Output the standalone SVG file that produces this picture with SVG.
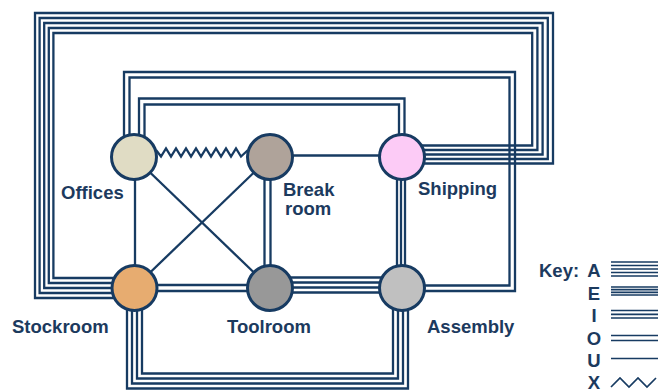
<svg xmlns="http://www.w3.org/2000/svg" width="660" height="392" viewBox="0 0 660 392">
<style>
.ln{fill:none;stroke:#173b62;stroke-width:2.3;stroke-linejoin:miter}
.kl{fill:none;stroke:#173b62;stroke-width:1.7}
.nd{stroke:#173b62;stroke-width:3}
.lb{font-family:"Liberation Sans",Arial,sans-serif;font-weight:bold;font-size:18.5px;fill:#1c3a5e}
.km{text-anchor:middle}
</style>
<rect width="660" height="392" fill="#ffffff"/>
<g id="connectors">
  <!-- A: Stockroom - Shipping (5 lines) -->
  <path class="ln" d="M134 298H35V13H553V163.5H402"/>
  <path class="ln" d="M134 293H39.6V18H547.8V159H402"/>
  <path class="ln" d="M134 288H44.2V23H542.6V154.5H402"/>
  <path class="ln" d="M134 283H48.8V28H537.4V150H402"/>
  <path class="ln" d="M134 278H53.4V33H532.2V145.5H402"/>
  <!-- O: Offices - Assembly -->
  <path class="ln" d="M124 157V72H515V291H402"/>
  <path class="ln" d="M129.5 157V77.5H509.5V285.5H402"/>
  <!-- O: Offices - Shipping -->
  <path class="ln" d="M139 157V98.5H404.5V157"/>
  <path class="ln" d="M144.5 157V104.5H399V157"/>
  <!-- X: Offices - Break room -->
  <path class="ln" d="M156 150L161 156.5L166 148.5L171 156.5L176 148.5L181 156.5L186 148.5L191 156.5L196 148.5L201 156.5L206 148.5L211 156.5L216 148.5L221 156.5L226 148.5L231 156.5L236 148.5L241 156.5L248 150"/>
  <!-- U: Break room - Shipping -->
  <path class="ln" d="M270 155.5H402"/>
  <!-- U: Offices - Stockroom -->
  <path class="ln" d="M135 157V288"/>
  <!-- U diagonals -->
  <path class="ln" d="M134 157L270 288"/>
  <path class="ln" d="M270 157L134 288"/>
  <!-- O: Break room - Toolroom -->
  <path class="ln" d="M264.5 157V288M270.5 157V288"/>
  <!-- O: Stockroom - Toolroom -->
  <path class="ln" d="M134 285H270M134 291H270"/>
  <!-- E: Toolroom - Assembly -->
  <path class="ln" d="M270 277.5H402M270 282.5H402M270 287.5H402M270 292.5H402"/>
  <!-- I: Shipping - Assembly -->
  <path class="ln" d="M397 157V288M401 157V288M405 157V288"/>
  <!-- E: Stockroom - Assembly -->
  <path class="ln" d="M127 288V388.5H408V288"/>
  <path class="ln" d="M132 288V383.5H403V288"/>
  <path class="ln" d="M137 288V378.5H398V288"/>
  <path class="ln" d="M142 288V373.5H393V288"/>
</g>
<g id="node-offices">
  <circle class="nd" cx="134" cy="157" r="22.5" fill="#e0dcc4"/>
  <text class="lb" x="61" y="199">Offices</text>
</g>
<g id="node-breakroom">
  <circle class="nd" cx="270" cy="157" r="22.5" fill="#afa39a"/>
  <text class="lb" x="283" y="196">Break</text>
  <text class="lb" x="285" y="215">room</text>
</g>
<g id="node-shipping">
  <circle class="nd" cx="402" cy="157" r="22.5" fill="#fccbf6"/>
  <text class="lb" x="418" y="195">Shipping</text>
</g>
<g id="node-stockroom">
  <circle class="nd" cx="134.5" cy="288" r="22.5" fill="#e7ac70"/>
  <text class="lb" x="12" y="333">Stockroom</text>
</g>
<g id="node-toolroom">
  <circle class="nd" cx="270" cy="288" r="22.5" fill="#989898"/>
  <text class="lb" x="227" y="333">Toolroom</text>
</g>
<g id="node-assembly">
  <circle class="nd" cx="402" cy="288" r="22.5" fill="#c0c0c0"/>
  <text class="lb" x="427" y="333">Assembly</text>
</g>
<g id="key">
  <text class="lb" x="539" y="277">Key:</text>
  <text class="lb km" x="594" y="277">A</text>
  <text class="lb km" x="594" y="299.5">E</text>
  <text class="lb km" x="594" y="322">I</text>
  <text class="lb km" x="594" y="344.5">O</text>
  <text class="lb km" x="594" y="367">U</text>
  <text class="lb km" x="594" y="389">X</text>
  <path class="kl" d="M611 262H658M611 265.5H658M611 269H658M611 272.5H658M611 276H658"/>
  <path class="kl" d="M611 287H658M611 289.7H658M611 292.3H658M611 295H658"/>
  <path class="kl" d="M611 310.5H658M611 314.3H658M611 318H658"/>
  <path class="kl" d="M611 335.5H658M611 340.5H658"/>
  <path class="kl" d="M611 358.5H658"/>
  <path class="kl" d="M611 387L620 378L629 387L638 378L647 387L656 378"/>
</g>
</svg>
